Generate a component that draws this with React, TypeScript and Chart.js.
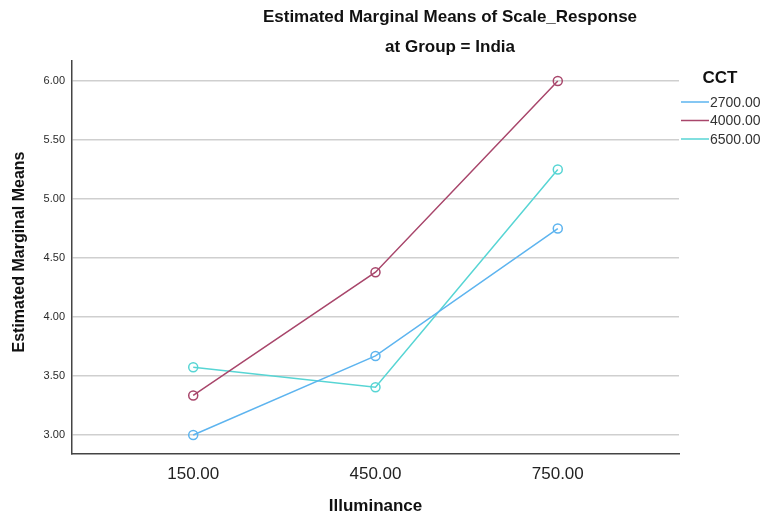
import React, { useEffect, useRef } from "react";
import { Chart, registerables } from "chart.js";

Chart.register(...registerables);

const illuminance = [150, 450, 750];
const xTickValues = [150, 450, 750];
const yTickValues = [3.0, 3.5, 4.0, 4.5, 5.0, 5.5, 6.0];
const cctLabels = ["2700.00", "4000.00", "6500.00"];
const cct2700 = [3.0, 3.67, 4.75];
const cct4000 = [3.335, 4.38, 6.0];
const cct6500 = [3.575, 3.405, 5.25];
const seriesColors = ["#5db4ef", "#a8466b", "#57d5d4"];

const titleLine1 = "Estimated Marginal Means of Scale_Response";
const titleLine2 = "at Group = India";
const yTitle = "Estimated Marginal Means";
const xTitle = "Illuminance";
const legendTitle = "CCT";

const FONT = "Arial, 'Liberation Sans', sans-serif";

const textPlugin = {
  id: "textPlugin",
  afterDraw(chart: any) {
    const ctx = chart.ctx;
    const area = chart.chartArea;
    ctx.save();
    ctx.fillStyle = "#111";
    ctx.textAlign = "center";
    ctx.textBaseline = "middle";
    ctx.font = `bold 17px ${FONT}`;
    ctx.fillText(titleLine1, 450, 17);
    ctx.fillText(titleLine2, 450, 47);
    ctx.fillText(xTitle, (area.left + area.right) / 2, 506);
    ctx.save();
    ctx.translate(20, 252);
    ctx.rotate(-Math.PI / 2);
    ctx.font = `bold 16px ${FONT}`;
    ctx.fillText(yTitle, 0, 0);
    ctx.restore();

    // legend
    ctx.font = `bold 17px ${FONT}`;
    ctx.fillText(legendTitle, 720, 78);
    ctx.textAlign = "left";
    ctx.font = `14px ${FONT}`;
    chart.data.datasets.forEach((ds: any, i: number) => {
      const y = 102 + i * 18.5;
      ctx.strokeStyle = ds.borderColor;
      ctx.lineWidth = 1.5;
      ctx.beginPath();
      ctx.moveTo(681, y);
      ctx.lineTo(709, y);
      ctx.stroke();
      ctx.fillStyle = "#333";
      ctx.fillText(ds.label, 710, y + 1);
    });
    ctx.restore();
  },
};

export default function App() {
  const ref = useRef<HTMLCanvasElement>(null);
  useEffect(() => {
    if (!ref.current) return;
    const series = [cct2700, cct4000, cct6500];
    const chart = new Chart(ref.current, {
      type: "line",
      data: {
        datasets: series.map((vals, i) => ({
          label: cctLabels[i],
          data: vals.map((v, j) => ({ x: illuminance[j], y: v })),
          borderColor: seriesColors[i],
          backgroundColor: "transparent",
          pointBackgroundColor: "transparent",
          pointBorderColor: seriesColors[i],
          pointRadius: 4.5,
          pointBorderWidth: 1.5,
          borderWidth: 1.5,
          tension: 0,
        })),
      },
      options: {
        animation: false,
        responsive: true,
        maintainAspectRatio: false,
        layout: { padding: { left: 0, top: 61, right: 86, bottom: 0 } },
        plugins: {
          legend: { display: false },
          title: { display: false },
          tooltip: { enabled: false },
        },
        scales: {
          x: {
            type: "linear",
            min: -49.5,
            max: 949.5,
            afterBuildTicks: (scale: any) => {
              scale.ticks = xTickValues.map((v) => ({ value: v }));
            },
            afterFit: (scale: any) => {
              scale.height = 66;
            },
            grid: { display: false, drawTicks: false },
            border: { display: true, color: "#444", width: 1.5 },
            ticks: {
              padding: 10,
              color: "#222",
              font: { family: FONT, size: 17 },
              callback: (v: any) => Number(v).toFixed(2),
            },
          },
          y: {
            type: "linear",
            min: 2.839,
            max: 6.17,
            afterBuildTicks: (scale: any) => {
              scale.ticks = yTickValues.map((v) => ({ value: v }));
            },
            afterFit: (scale: any) => {
              scale.width = 72;
            },
            grid: { color: "#cfcfcf", lineWidth: 1.5, drawTicks: false },
            border: { display: true, color: "#444", width: 1.5 },
            ticks: {
              padding: 7,
              color: "#2a2a2a",
              font: { family: FONT, size: 11 },
              callback: (v: any) => Number(v).toFixed(2),
            },
          },
        },
      },
      plugins: [textPlugin],
    });
    return () => chart.destroy();
  }, []);
  return (
    <div style={{ position: "fixed", left: 0, top: 0, width: 765, height: 520, background: "#fff" }}>
      <canvas ref={ref} />
    </div>
  );
}
